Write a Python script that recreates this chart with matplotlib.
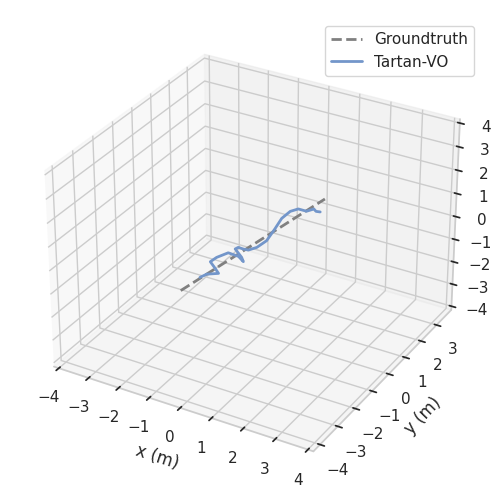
import matplotlib
matplotlib.use('Agg')
import matplotlib.pyplot as plt
import seaborn as sns

sns.set_style('whitegrid')
sns.set_context('notebook')
plt.rcParams['axes3d.automargin'] = True

gt_x = [-0.49, 0.44]
gt_y = [-3.45, 3.01]
gt_z = [0.0, 0.0]

vo_x = [-0.40,-0.33,-0.07,-0.33,-0.59,-0.56,-0.41,-0.06,0.20,0.04,-0.35,-0.32,-0.16,0.0,0.13,0.18,0.05,-0.08,-0.07,0.06,0.33,0.45,0.57,0.69]
vo_y = [-2.59,-2.35,-2.15,-1.93,-1.72,-1.43,-1.05,-1.08,-1.26,-1.08,-0.77,-0.65,-0.66,-0.64,-0.39,0.07,0.77,1.39,1.87,2.11,2.11,2.33,2.24,2.27]
vo_z = [0.0]*len(vo_x)

ticks = list(range(-4, 5))
yticks = list(range(-4, 4))

fig = plt.figure(figsize=(5,5), dpi=100)
ax = fig.add_axes([0.035,0.039,0.93,0.924], projection='3d')
ax.plot(gt_x, gt_y, gt_z, '--', color='gray', lw=2, label='Groundtruth')
ax.plot(vo_x, vo_y, vo_z, color='#7396ca', lw=2, label='Tartan-VO')
ax.set_xlim(-4,4); ax.set_ylim(-4.2,3.8); ax.set_zlim(-4,4)
ax.set_xticks(ticks); ax.set_yticks(yticks); ax.set_zticks(ticks)
ax.set_xlabel('x (m)'); ax.set_ylabel('y (m)')
ax.legend(loc='upper right', bbox_to_anchor=(0.948,0.948), bbox_transform=fig.transFigure, borderaxespad=0)
fig.savefig('out.png', dpi=100)
